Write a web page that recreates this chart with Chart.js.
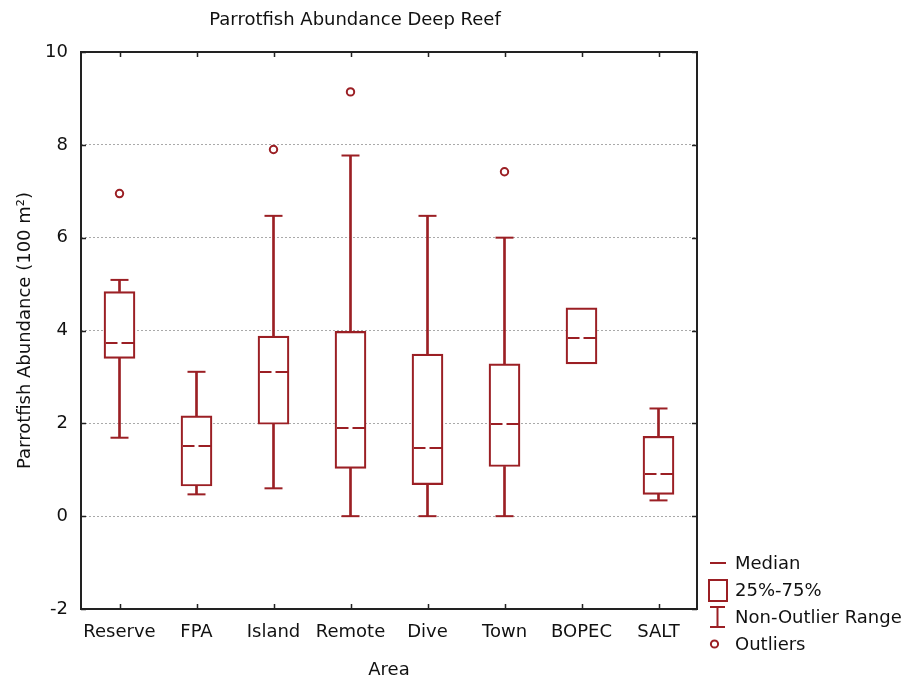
<!DOCTYPE html>
<html>
<head>
<meta charset="utf-8">
<script src="https://cdn.jsdelivr.net/npm/chart.js@4.4.0/dist/chart.umd.min.js"></script>
<style>
html,body{margin:0;padding:0;background:#fff;}
#wrap{position:relative;width:912px;height:684px;}
#c{position:absolute;left:0;top:0;}
#legend{position:absolute;left:0;top:0;width:912px;height:684px;pointer-events:none;font-family:"DejaVu Sans";font-size:18px;color:#111;}
.lt{position:absolute;left:735px;height:22px;line-height:22px;white-space:nowrap;}
</style>
</head>
<body>
<div id="wrap">
<canvas id="c" width="912" height="684"></canvas>
<div id="legend">
<svg width="912" height="684" style="position:absolute;left:0;top:0">
<g stroke="#9b1f24" stroke-width="2" fill="none">
<line x1="710" y1="563" x2="726" y2="563"/>
<rect x="709" y="580" width="18" height="21"/>
<line x1="710" y1="607" x2="725" y2="607"/><line x1="717.5" y1="607" x2="717.5" y2="627"/><line x1="710" y1="627" x2="725" y2="627"/>
<circle cx="714.5" cy="644" r="3.6"/>
</g>
</svg>
<div class="lt" style="top:552px">Median</div>
<div class="lt" style="top:579px">25%-75%</div>
<div class="lt" style="top:606px">Non-Outlier Range</div>
<div class="lt" style="top:633px">Outliers</div>
</div>
</div>
<script>
// ---- data ----
const categories  = ['Reserve', 'FPA', 'Island', 'Remote', 'Dive', 'Town', 'BOPEC', 'SALT'];
const whiskerLow  = [1.69, 0.47, 0.60, 0.00, 0.00, 0.00, null, 0.34];
const q1          = [3.40, 0.65, 1.98, 1.03, 0.68, 1.07, 3.28, 0.47];
const median      = [3.72, 1.51, 3.11, 1.89, 1.46, 1.98, 3.84, 0.90];
const q3          = [4.84, 2.16, 3.88, 3.98, 3.49, 3.28, 4.49, 1.72];
const whiskerHigh = [5.09, 3.11, 6.47, 7.77, 6.47, 6.00, null, 2.32];
const outliers    = [6.95, null, 7.90, 9.14, null, 7.42, null, null];
const yTicks      = [-2, 0, 2, 4, 6, 8, 10];

const RED = '#9b1f24';
const TXT = '#111111';
const FONT = 'DejaVu Sans';

const boxes = q1.map((v, i) => [v, q3[i]]);
const lowW  = whiskerLow.map((v, i) => v === null ? null : [v, q1[i]]);
const highW = whiskerHigh.map((v, i) => v === null ? null : [q3[i], v]);

const medianImg = (() => {
  const c = document.createElement('canvas');
  c.width = 28; c.height = 2;
  const g = c.getContext('2d');
  g.fillStyle = RED;
  g.fillRect(0, 0, 12, 2);
  g.fillRect(16, 0, 12, 2);
  return c;
})();

const framePlugin = {
  id: 'frame',
  afterDraw(chart) {
    const {ctx, chartArea: a, scales: {x, y}} = chart;
    ctx.save();
    ctx.strokeStyle = '#222';
    ctx.lineWidth = 2;
    ctx.strokeRect(a.left, a.top, a.right - a.left, a.bottom - a.top);
    ctx.lineWidth = 1.5;
    ctx.beginPath();
    categories.forEach((c, i) => {
      const px = Math.round(x.getPixelForValue(i)) + 0.5;
      ctx.moveTo(px, a.top); ctx.lineTo(px, a.top + 5);
      ctx.moveTo(px, a.bottom); ctx.lineTo(px, a.bottom - 5);
    });
    yTicks.forEach(v => {
      const py = Math.round(y.getPixelForValue(v)) + 0.5;
      ctx.moveTo(a.left, py); ctx.lineTo(a.left + 5, py);
      ctx.moveTo(a.right, py); ctx.lineTo(a.right - 5, py);
    });
    ctx.stroke();
    ctx.restore();
  }
};

Chart.defaults.font.family = FONT;
Chart.defaults.color = TXT;

new Chart(document.getElementById('c'), {
  type: 'bar',
  data: {
    labels: categories,
    datasets: [
      { label: 'lowWhisker', data: lowW, grouped: false, barThickness: 2, backgroundColor: RED, borderWidth: 0, order: 3 },
      { label: 'highWhisker', data: highW, grouped: false, barThickness: 2, backgroundColor: RED, borderWidth: 0, order: 3 },
      { label: '25%-75%', data: boxes, grouped: false, barThickness: 31, backgroundColor: 'rgba(255,255,255,1)', borderColor: RED, borderWidth: 2.2, borderSkipped: false, order: 2 },
      { type: 'line', label: 'capLow', data: whiskerLow, showLine: false, pointStyle: 'line', pointRadius: 9, pointBorderWidth: 2, pointBorderColor: RED, order: 1 },
      { type: 'line', label: 'capHigh', data: whiskerHigh, showLine: false, pointStyle: 'line', pointRadius: 9, pointBorderWidth: 2, pointBorderColor: RED, order: 1 },
      { type: 'line', label: 'Median', data: median, showLine: false, pointStyle: medianImg, pointRadius: 14, order: 0 },
      { type: 'line', label: 'Outliers', data: outliers, showLine: false, pointStyle: 'circle', pointRadius: 3.7, pointBorderWidth: 2, pointBorderColor: RED, pointBackgroundColor: '#fff', order: 0 }
    ]
  },
  options: {
    responsive: false,
    animation: false,
    devicePixelRatio: 1,
    layout: { padding: { left: 13, right: 215, top: 0, bottom: 0 } },
    plugins: {
      legend: { display: false },
      tooltip: { enabled: false },
      title: {
        display: true,
        text: 'Parrotfish Abundance Deep Reef',
        color: TXT,
        font: { family: FONT, size: 18, weight: 'normal' },
        padding: { top: 10, bottom: 20.4 }
      }
    },
    scales: {
      x: {
        offset: true,
        grid: { display: false, drawTicks: false },
        border: { display: false },
        ticks: { color: TXT, font: { family: FONT, size: 18 }, padding: 13, maxRotation: 0, autoSkip: false },
        title: { display: true, text: 'Area', color: TXT, font: { family: FONT, size: 18 }, padding: { top: 0, bottom: 3 } },
        afterFit(s) { s.height = 75; }
      },
      y: {
        min: -2, max: 10,
        grid: { color: '#a9a9a9', lineWidth: 1, drawTicks: false },
        border: { display: false, dash: [2, 2] },
        ticks: { stepSize: 2, color: TXT, font: { family: FONT, size: 18 }, padding: 13 },
        title: { display: true, text: 'Parrotfish Abundance (100 m²)', color: TXT, font: { family: FONT, size: 18 }, padding: { top: 2, bottom: 0 } },
        afterFit(s) { s.width = 68; }
      }
    }
  },
  plugins: [framePlugin]
});
</script>
</body>
</html>
